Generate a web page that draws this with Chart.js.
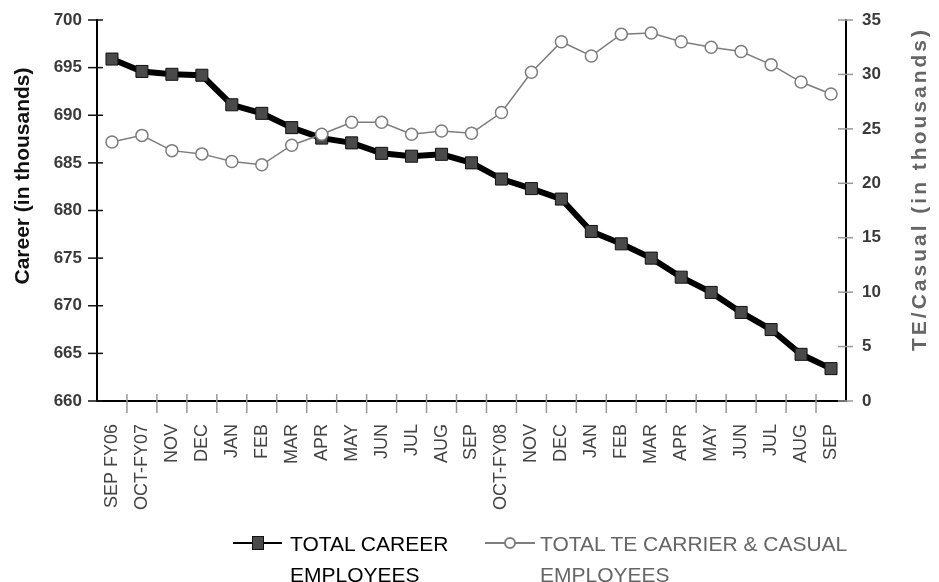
<!DOCTYPE html>
<html>
<head>
<meta charset="utf-8">
<script src="https://cdn.jsdelivr.net/npm/chart.js@4.4.1/dist/chart.umd.min.js"></script>
<style>
  html, body { margin: 0; padding: 0; background: #fff; }
  #wrap { position: relative; width: 939px; height: 582px; overflow: hidden; font-family: "Liberation Sans", Arial, sans-serif; }
  #chart { position: absolute; left: 0; top: 0; }
  .leg-text { position: absolute; font-size: 21px; line-height: 31px; white-space: nowrap; }
  .leg-line { position: absolute; height: 2px; }
  .leg-rect { position: absolute; box-sizing: border-box; width: 12px; height: 14px; background: #4a4a4a; border: 1px solid #111; }
  .leg-dot { position: absolute; box-sizing: border-box; width: 12px; height: 12px; border-radius: 50%; background: #fff; border: 2px solid #7d7d7d; }
</style>
</head>
<body>
<div id="wrap">
  <canvas id="chart" width="939" height="582"></canvas>

  <div class="leg-line" style="left:233px; top:542px; width:49px; background:#000;"></div>
  <div class="leg-rect" style="left:252px; top:536px;"></div>
  <div class="leg-text" style="left:290px; top:528px; color:#000;">TOTAL CAREER<br>EMPLOYEES</div>

  <div class="leg-line" style="left:485px; top:542px; width:50px; background:#7d7d7d;"></div>
  <div class="leg-dot" style="left:504px; top:537px;"></div>
  <div class="leg-text" style="left:540px; top:528px; color:#666;">TOTAL TE CARRIER &amp; CASUAL<br>EMPLOYEES</div>
</div>

<script>
const months = ["SEP FY06", "OCT-FY07", "NOV", "DEC", "JAN", "FEB", "MAR", "APR", "MAY", "JUN", "JUL", "AUG", "SEP",
                "OCT-FY08", "NOV", "DEC", "JAN", "FEB", "MAR", "APR", "MAY", "JUN", "JUL", "AUG", "SEP"];

// thousands, left axis
const career = [695.9, 694.6, 694.3, 694.2, 691.1, 690.2, 688.7, 687.6, 687.1, 686.0, 685.7, 685.9, 685.0,
                683.3, 682.3, 681.2, 677.8, 676.5, 675.0, 673.0, 671.4, 669.3, 667.5, 664.9, 663.4];

// thousands, right axis
const teCasual = [23.8, 24.4, 23.0, 22.7, 22.0, 21.7, 23.5, 24.5, 25.6, 25.6, 24.5, 24.8, 24.6,
                  26.5, 30.2, 33.0, 31.7, 33.7, 33.8, 33.0, 32.5, 32.1, 30.9, 29.3, 28.2];

const careerTicks = { min: 660, max: 700, step: 5 };
const teTicks = { min: 0, max: 35, step: 5 };

const FONT = "'Liberation Sans', Arial, sans-serif";

// crossing tick marks + axis titles (right title reads bottom-to-top)
const axisDecor = {
  id: "axisDecor",
  afterDraw(chart) {
    const { ctx, chartArea: a, scales } = chart;
    ctx.save();

    ctx.lineWidth = 1.5;
    ctx.strokeStyle = "#111";
    scales.y.ticks.forEach(t => {
      const py = scales.y.getPixelForValue(t.value);
      ctx.beginPath();
      ctx.moveTo(a.left - 9, py);
      ctx.lineTo(a.left + 6, py);
      ctx.stroke();
    });

    ctx.strokeStyle = "#999";
    scales.y1.ticks.forEach(t => {
      const py = scales.y1.getPixelForValue(t.value);
      ctx.beginPath();
      ctx.moveTo(a.right - 8, py);
      ctx.lineTo(a.right + 7, py);
      ctx.stroke();
    });

    const x = scales.x;
    for (let i = 1; i < months.length; i++) {
      const px = (x.getPixelForValue(i - 1) + x.getPixelForValue(i)) / 2;
      ctx.beginPath();
      ctx.moveTo(px, a.bottom - 7);
      ctx.lineTo(px, a.bottom + 12);
      ctx.stroke();
    }

    ctx.textAlign = "center";
    ctx.textBaseline = "middle";
    ctx.font = "bold 21px " + FONT;

    ctx.save();
    ctx.translate(23, 176);
    ctx.rotate(-Math.PI / 2);
    ctx.fillStyle = "#111";
    ctx.fillText("Career (in thousands)", 0, 0);
    ctx.restore();

    ctx.save();
    ctx.translate(920, 189);
    ctx.rotate(-Math.PI / 2);
    ctx.fillStyle = "#666";
    if ("letterSpacing" in ctx) ctx.letterSpacing = "3px";
    ctx.fillText("TE/Casual (in thousands)", 0, 0);
    ctx.restore();

    ctx.restore();
  }
};

function fitY(width) {
  return scale => {
    scale.width = width;
    scale.paddingTop = 0;
    scale.paddingBottom = 0;
  };
}

new Chart(document.getElementById("chart").getContext("2d"), {
  type: "line",
  data: {
    labels: months,
    datasets: [
      {
        label: "TOTAL CAREER EMPLOYEES",
        data: career,
        yAxisID: "y",
        order: 1,
        borderColor: "#000",
        borderWidth: 6,
        tension: 0,
        pointStyle: "rect",
        pointRadius: 8.5,
        pointHoverRadius: 8.5,
        pointBackgroundColor: "#4a4a4a",
        pointBorderColor: "#111",
        pointBorderWidth: 1
      },
      {
        label: "TOTAL TE CARRIER & CASUAL EMPLOYEES",
        data: teCasual,
        yAxisID: "y1",
        order: 0,
        borderColor: "#7d7d7d",
        borderWidth: 1.5,
        tension: 0,
        pointStyle: "circle",
        pointRadius: 6,
        pointHoverRadius: 6,
        pointBackgroundColor: "#fff",
        pointBorderColor: "#7d7d7d",
        pointBorderWidth: 1.5
      }
    ]
  },
  options: {
    responsive: false,
    animation: false,
    devicePixelRatio: 1,
    layout: { padding: { top: 20, left: 0, right: 0, bottom: 0 } },
    plugins: {
      legend: { display: false },
      tooltip: { enabled: false }
    },
    scales: {
      x: {
        type: "category",
        offset: true,
        grid: { display: false, drawTicks: false },
        border: { display: true, color: "#000", width: 2 },
        ticks: {
          autoSkip: false,
          minRotation: 90,
          maxRotation: 90,
          padding: 23,
          color: "#444",
          font: { family: FONT, size: 18 }
        },
        afterFit(scale) { scale.height = 181; }
      },
      y: {
        position: "left",
        min: careerTicks.min,
        max: careerTicks.max,
        grid: { display: false, drawTicks: false },
        border: { display: true, color: "#000", width: 2 },
        ticks: {
          stepSize: careerTicks.step,
          padding: 15,
          color: "#3a3a3a",
          font: { family: FONT, size: 17, weight: "bold" }
        },
        afterFit: fitY(97)
      },
      y1: {
        position: "right",
        min: teTicks.min,
        max: teTicks.max,
        grid: { display: false, drawTicks: false },
        border: { display: true, color: "#000", width: 2 },
        ticks: {
          stepSize: teTicks.step,
          padding: 16,
          color: "#3a3a3a",
          font: { family: FONT, size: 17, weight: "bold" }
        },
        afterFit: fitY(93)
      }
    }
  },
  plugins: [axisDecor]
});
</script>
</body>
</html>
